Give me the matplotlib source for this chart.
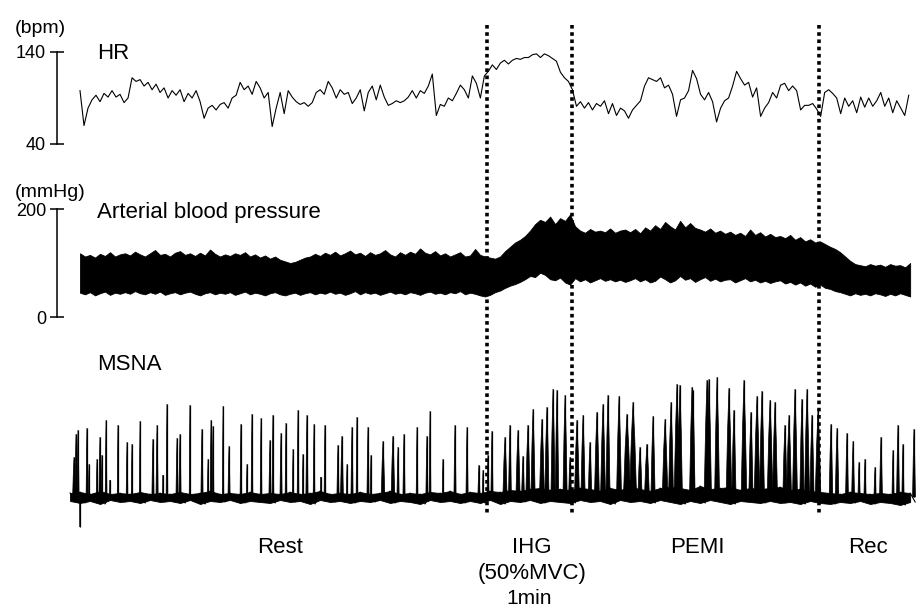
import matplotlib.pyplot as plt
import numpy as np

plt.rcParams['font.family'] = ['Liberation Sans', 'DejaVu Sans']

W, H = 919, 609
S_PER_PX = 60 / 85.0          # 1 min IHG spans ~85 px
X0 = 80                        # px where the HR / BP traces start

# phase boundaries, s from start of recording
events = [287, 347, 522]

# heart rate (bpm), beat-to-beat, ~2.8 s apart
hr = [98, 60, 79, 88, 93, 86, 95, 91, 98, 91,
      94, 85, 90, 112, 108, 110, 103, 107, 99, 105,
      96, 101, 90, 98, 93, 99, 86, 95, 90, 98,
      86, 68, 79, 82, 77, 83, 85, 79, 90, 93,
      107, 99, 103, 94, 108, 101, 90, 96, 59, 79,
      96, 73, 98, 91, 86, 83, 85, 81, 85, 96,
      99, 94, 108, 101, 90, 99, 94, 96, 84, 90,
      99, 76, 96, 103, 88, 104, 91, 82, 84, 87,
      85, 87, 91, 98, 90, 98, 95, 103, 116, 71,
      83, 81, 90, 87, 95, 104, 99, 90, 114, 106,
      90, 114, 119, 126, 121, 128, 131, 127, 131, 133,
      132, 134, 134, 137, 138, 134, 138, 136, 133, 130,
      118, 112, 108, 99, 81, 86, 79, 85, 77, 84,
      81, 87, 73, 84, 71, 79, 76, 68, 77, 82,
      87, 103, 112, 110, 108, 112, 101, 104, 94, 70,
      88, 90, 98, 120, 111, 94, 88, 96, 86, 64,
      79, 87, 90, 103, 119, 111, 104, 107, 91, 101,
      70, 79, 85, 96, 90, 104, 106, 98, 103, 98,
      77, 82, 82, 84, 78, 70, 96, 99, 95, 90,
      73, 90, 81, 87, 74, 91, 80, 90, 81, 87,
      96, 81, 90, 74, 87, 79, 71, 93]

# arterial pressure envelope (mmHg), ~3.5 s apart
sbp = [118, 112, 115, 110, 117, 113, 120, 112, 116, 118,
       114, 121, 116, 112, 118, 124, 115, 117, 112, 119,
       122, 115, 118, 113, 119, 114, 125, 117, 112, 116,
       113, 118, 115, 120, 112, 116, 110, 114, 108, 112,
       106, 103, 100, 102, 106, 110, 112, 117, 113, 119,
       115, 121, 114, 118, 123, 116, 119, 113, 120, 115,
       118, 124, 116, 112, 120, 115, 121, 117, 127, 119,
       116, 122, 114, 118, 112, 116, 120, 112, 114, 126,
       115, 112, 110, 108, 112, 122, 130, 138, 143, 150,
       160, 172, 180, 176, 186, 172, 183, 178, 190, 168,
       160, 156, 163, 158, 160, 157, 164, 156, 160, 162,
       157, 163, 155, 166, 160, 170, 163, 176, 168, 162,
       178, 166, 174, 165, 162, 158, 164, 156, 160, 154,
       158, 152, 156, 150, 162, 152, 157, 149, 154, 148,
       150, 146, 152, 143, 148, 140, 144, 138, 140, 135,
       130, 126, 120, 112, 104, 98, 96, 94, 98, 95,
       97, 93, 98, 95, 96, 92, 100]
dbp = [45, 42, 46, 40, 44, 47, 41, 45, 43, 46,
       43, 48, 44, 42, 46, 43, 47, 41, 44, 46,
       42, 45, 47, 43, 40, 44, 46, 42, 45, 43,
       46, 41, 44, 47, 42, 45, 43, 40, 44, 46,
       42, 40, 43, 45, 41, 44, 46, 42, 45, 43,
       47, 43, 45, 41, 44, 48, 42, 46, 43, 45,
       41, 44, 47, 43, 45, 42, 46, 44, 41, 45,
       47, 43, 45, 42, 46, 44, 48, 42, 45, 43,
       40, 38, 41, 46, 49, 54, 58, 61, 65, 70,
       76, 74, 82, 78, 70, 68, 73, 64, 60, 72,
       66, 70, 64, 68, 72, 67, 70, 66, 69, 65,
       68, 72, 66, 70, 64, 67, 75, 70, 64, 68,
       76, 69, 72, 65, 70, 74, 67, 71, 66, 69,
       70, 64, 68, 72, 66, 69, 64, 67, 63, 66,
       68, 62, 65, 60, 64, 58, 62, 56, 60, 54,
       52, 48, 46, 43, 40, 44, 41, 43, 40, 44,
       42, 39, 43, 40, 44, 41, 38]

# MSNA bursts: time (s), amplitude (a.u.), width (s)
burst_t = [-4.2, -2.8, -1.4, 0.0, 4.9, 6.4, 12.0, 14.1, 15.5, 18.4, 21.2, 26.8,
           33.2, 36.7, 42.4, 51.5, 54.4, 58.6, 61.4, 68.5, 70.6, 77.6, 86.1,
           90.4, 92.5, 93.9, 101.0, 105.2, 113.6, 117.9, 121.4, 127.8, 134.1,
           136.2, 141.9, 145.4, 150.4, 153.9, 157.4, 160.2, 165.2, 170.1,
           172.9, 182.1, 184.9, 188.5, 192.0, 195.5, 203.3, 205.4, 213.9,
           220.9, 224.5, 228.7, 237.9, 244.9, 247.1, 256.2, 264.7,
           273.2, 281.6, 284.5, 288.0, 290.8, 300.0, 303.5, 309.2, 312.7,
           316.2, 319.8, 326.1, 329.6, 333.9, 336.7, 342.4, 345.9, 350.8,
           355.1, 360.0, 364.9, 369.2, 372.7, 380.5, 386.1, 390.4, 395.3,
           400.2, 404.5, 413.0, 417.2, 421.4, 423.5, 432.0, 432.7, 442.6,
           444.0, 449.7, 458.1, 461.6, 468.7, 473.6, 477.9, 481.4, 487.1,
           490.6, 497.6, 500.5, 504.7, 509.6, 513.2, 516.7, 521.0, 530.1,
           534.4, 541.4, 545.7, 549.9, 554.1, 561.2, 565.4, 573.9, 577.4,
           580.9, 588.7]
burst_h = [40, 63, 67, -30, 69, 33, 38, 60, 42, 77, 17, 72,
           55, 53, 76, 58, 72, 22, 93, 59, 63, 92, 68,
           38, 77, 71, 91, 51, 73, 33, 83, 79, 57,
           82, 64, 74, 48, 87, 43, 82, 73, 20,
           72, 52, 61, 33, 70, 80, 70, 42, 56,
           61, 50, 63, 70, 61, 86, 38, 72,
           70, 32, 27, 42, 66, 60, 72, 67, 41,
           72, 88, 78, 90, 108, 107, 102, 40, 77,
           82, 55, 85, 93, 102, 101, 83, 95, 50,
           53, 81, 78, 95, 113, 112, 110, 107, 117,
           118, 120, 109, 87, 117, 85, 101, 106, 97,
           95, 72, 82, 108, 98, 108, 82, 88, 73,
           69, 64, 56, 35, 38, 30, 60, 47, 72,
           53, 68]
burst_w = [2.0, 1.5, 1.5, 0.4, 1.2, 1.0, 1.0, 1.5, 1.0, 1.2, 0.8, 1.0,
           1.2, 1.0, 1.0, 1.5, 1.5, 0.8, 1.2, 1.5, 1.5, 1.0, 1.5,
           1.0, 1.2, 1.2, 1.0, 1.5, 1.2, 1.0, 1.2, 1.2, 1.5,
           1.2, 1.5, 1.2, 1.0, 1.2, 1.0, 1.5, 1.2, 0.8,
           1.2, 1.5, 2.0, 1.0, 1.5, 1.2, 1.5, 1.0, 2.5,
           2.5, 1.5, 1.5, 1.2, 1.5, 1.2, 1.0, 1.5,
           1.5, 1.5, 1.0, 1.5, 1.5, 3.0, 2.0, 3.0, 2.0,
           3.0, 3.0, 3.5, 3.0, 3.0, 2.5, 3.0, 2.0, 3.5,
           3.0, 2.5, 3.5, 3.5, 3.0, 3.5, 5.0, 5.0, 3.0,
           3.5, 3.0, 4.0, 3.5, 4.0, 3.5, 3.5, 3.0, 4.0,
           3.5, 3.5, 4.0, 3.0, 4.0, 3.0, 4.0, 3.5, 4.0,
           3.5, 3.0, 3.5, 3.5, 3.0, 3.5, 3.0, 4.0, 2.5,
           2.5, 2.0, 2.0, 1.5, 1.5, 1.5, 2.0, 1.5, 2.0,
           1.5, 2.0]

# MSNA baseline noise extremes (a.u.), every ~7 s
base_hi = [4, 5, 3, 6, 3, 4, 3, 5, 3, 4,
           3, 5, 3, 4, 6, 3, 4, 3, 5, 3,
           4, 3, 5, 3, 4, 6, 3, 4, 3, 5,
           3, 4, 6, 3, 4, 3, 5, 4, 6, 3,
           5, 4, 6, 5, 7, 6, 8, 9, 7, 8,
           7, 9, 8, 6, 9, 7, 10, 8, 6, 9,
           10, 9, 7, 11, 8, 9, 10, 7, 9, 8,
           9, 10, 7, 8, 6, 5, 4, 3, 5, 4,
           3, 4, 3, 5, 4]
base_lo = [-4, -6, -4, -7, -3, -5, -4, -6, -3, -5,
           -4, -6, -3, -7, -4, -5, -3, -6, -4, -5,
           -6, -3, -5, -4, -7, -3, -5, -4, -6, -4,
           -5, -3, -6, -4, -5, -7, -3, -5, -4, -6,
           -4, -6, -3, -7, -4, -5, -3, -6, -4, -5,
           -6, -3, -5, -4, -7, -3, -5, -4, -6, -3,
           -5, -7, -4, -6, -3, -5, -7, -4, -5, -6,
           -4, -6, -5, -7, -4, -6, -7, -5, -6, -4,
           -7, -5, -6, -8, -5]


def sx(px):
    # pixel column -> seconds on the shared time axis
    return (px - X0) * S_PER_PX


def fy(py):
    return 1 - py / H


xlim = (sx(0), sx(W))
spine_x = sx(57)

fig = plt.figure(figsize=(W / 100, H / 100), dpi=100)

# HR panel: 140 bpm at px 52, 40 bpm at px 144
ax_hr = fig.add_axes([0, fy(144), 1, 92 / H])
hr_t = np.linspace(0, 585, len(hr))
ax_hr.plot(hr_t, hr, color='black', lw=0.8, clip_on=False)
ax_hr.set_ylim(40, 140)

# BP panel: 200 mmHg at px 209, 0 at px 317
ax_bp = fig.add_axes([0, fy(317), 1, 108 / H])
bp_t = np.linspace(0, 586, len(sbp))
ax_bp.fill_between(bp_t, dbp, sbp, color='black', lw=0.6)
ax_bp.set_ylim(0, 200)

for ax, lo, hi in [(ax_hr, 40, 140), (ax_bp, 0, 200)]:
    ax.set_xlim(*xlim)
    ax.patch.set_alpha(0)
    for s in ['top', 'right', 'bottom']:
        ax.spines[s].set_visible(False)
    ax.spines['left'].set_position(('data', spine_x))
    ax.spines['left'].set_bounds(lo, hi)
    ax.spines['left'].set_linewidth(1.1)
    ax.set_yticks([lo, hi])
    ax.tick_params(axis='y', direction='inout', length=10, width=1.1,
                   labelsize=13, pad=3)
    ax.set_xticks([])

# MSNA panel: 1 a.u. = 1 px, baseline at px 497
ax_ms = fig.add_axes([0, fy(530), 1, 170 / H])
ax_ms.set_xlim(*xlim)
ax_ms.set_ylim(-33, 137)
ax_ms.axis('off')
base_t = np.linspace(-7, 586, len(base_hi))
dt = base_t[1] - base_t[0]
ax_ms.fill_between(base_t, base_lo, base_hi, color='black', lw=0.6)
zig_t = np.ravel(np.column_stack([base_t, base_t + dt / 2]))
zig_v = np.ravel(np.column_stack([base_hi, base_lo]))
ax_ms.plot(zig_t, zig_v, color='black', lw=0.8)
for t, h, w in zip(burst_t, burst_h, burst_w):
    ax_ms.fill([t - w / 2, t - w / 4, t, t + w / 4, t + w / 2],
               [0, 0.6 * h, h, 0.6 * h, 0], color='black', lw=0.5)
    ax_ms.vlines(t, 0, h, color='black', lw=0.9)

# overlay in pixel rows for event lines and labels
ax_bg = fig.add_axes([0, 0, 1, 1])
ax_bg.set_xlim(*xlim)
ax_bg.set_ylim(H, 0)
ax_bg.axis('off')
ax_bg.patch.set_alpha(0)
ax_bg.vlines(events, 25, 515, colors='black', linestyles=(0, (1, 1)), lw=2.6)

ax_bg.text(sx(40), 33, '(bpm)', ha='center', va='baseline', fontsize=14)
ax_bg.text(sx(50), 197, '(mmHg)', ha='center', va='baseline', fontsize=14)
ax_bg.text(sx(97), 59, 'HR', ha='left', va='baseline', fontsize=16)
ax_bg.text(sx(97), 218, 'Arterial blood pressure', ha='left', va='baseline', fontsize=16)
ax_bg.text(sx(97), 370, 'MSNA', ha='left', va='baseline', fontsize=16)

phase_labels = ['Rest', 'IHG', 'PEMI', 'Rec']
phase_px = [280, 532, 697, 868]
for lab, p in zip(phase_labels, phase_px):
    ax_bg.text(sx(p), 553, lab, ha='center', va='baseline', fontsize=16)
ax_bg.text(sx(532), 579, '(50%MVC)', ha='center', va='baseline', fontsize=16)
ax_bg.text(sx(529), 604, '1min', ha='center', va='baseline', fontsize=15)

fig.savefig('out.png', dpi=100)
